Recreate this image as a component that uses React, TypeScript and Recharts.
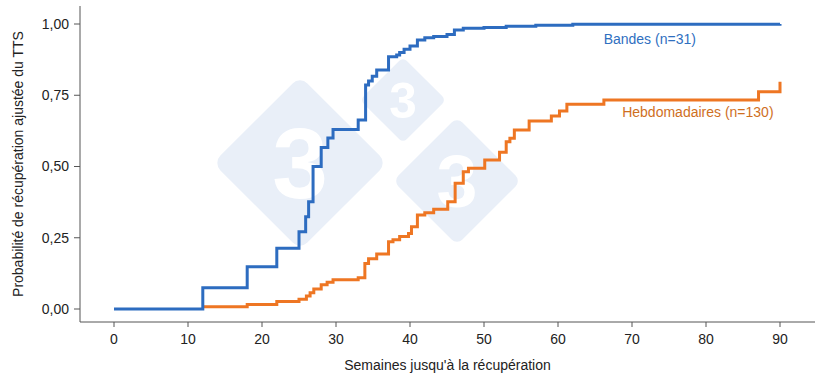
import React from "react"
import { LineChart, Line, XAxis, YAxis, ReferenceDot } from "recharts"

// axis ticks
const weekTicks = [0, 10, 20, 30, 40, 50, 60, 70, 80, 90]
const probTicks = [0, 0.25, 0.5, 0.75, 1]

// Bandes (n=31) - step points
const bandesWeeks = [
  0, 12, 18, 22, 25, 25.9, 26.3, 26.9, 28, 28.9, 29.6, 33, 34, 34.4, 34.9, 35.5,
  37.1, 38.2, 38.6, 39.2, 40, 41, 42, 43.2, 45, 46, 47.2, 50, 53, 57, 62, 90,
]
const bandesProb = [
  0, 0.075, 0.148, 0.213, 0.271, 0.324, 0.376, 0.5, 0.567, 0.6, 0.63, 0.663, 0.786, 0.8, 0.817, 0.839,
  0.885, 0.891, 0.9, 0.911, 0.923, 0.944, 0.952, 0.956, 0.963, 0.979, 0.985, 0.988, 0.992, 0.996, 0.999, 1.0,
]

// Hebdomadaires (n=130)
const hebdoWeeks = [
  12, 18, 22, 25, 26, 26.5, 27, 28, 28.8, 29.6, 33, 33.9, 34.4, 35.5, 37.1, 37.7, 38.6, 39.8, 40.2,
  41, 42, 43.2, 45.1, 46.1, 47.2, 47.9, 50.1, 52.1, 53, 53.5, 54.1, 56.1, 59.1, 60.2, 61.2, 66.2, 87.1, 90,
]
const hebdoProb = [
  0.008, 0.016, 0.026, 0.034, 0.046, 0.057, 0.07, 0.085, 0.094, 0.103, 0.11, 0.16, 0.176, 0.193, 0.236, 0.243, 0.254, 0.265, 0.289,
  0.33, 0.338, 0.35, 0.376, 0.441, 0.482, 0.494, 0.523, 0.55, 0.587, 0.599, 0.628, 0.66, 0.677, 0.695, 0.718, 0.733, 0.762, 0.797,
]

const bandesData = bandesWeeks.map((w, i) => ({ week: w, p: bandesProb[i] }))
const hebdoData = hebdoWeeks.map((w, i) => ({ week: w, p: hebdoProb[i] }))

const FONT = "'Liberation Sans', Arial, Helvetica, sans-serif"
const BLUE = "#2d6cc0"
const ORANGE = "#ee7623"

if (typeof document !== "undefined") document.body.style.margin = "0"

const fmt = (v: number) => v.toFixed(2).replace(".", ",")

// faint "333" logo behind the plot
const marks = [
  { cx: 300, cy: 163, half: 87 },
  { cx: 403, cy: 100, half: 43 },
  { cx: 457, cy: 181, half: 64 },
]

function Watermark() {
  return (
    <svg width={820} height={383} style={{ position: "absolute", left: 0, top: 0 }}>
      {marks.map((m, i) => {
        const s = m.half * Math.SQRT2
        return (
          <g key={i}>
            <rect
              x={m.cx - s / 2}
              y={m.cy - s / 2}
              width={s}
              height={s}
              rx={m.half * 0.12}
              fill="#e9eff8"
              transform={`rotate(45 ${m.cx} ${m.cy})`}
            />
            <text
              x={m.cx}
              y={m.cy}
              textAnchor="middle"
              dominantBaseline="central"
              fill="#fff"
              fontFamily={FONT}
              fontWeight="bold"
              fontSize={m.half * 1.15}
            >
              3
            </text>
          </g>
        )
      })}
    </svg>
  )
}

function YTitle(props: any) {
  const vb = props.viewBox
  const cy = vb.y + vb.height / 2
  return (
    <text
      x={18}
      y={cy}
      transform={`rotate(-90 18 ${cy})`}
      textAnchor="middle"
      dominantBaseline="central"
      fontSize={14}
      fill="#222"
      fontFamily={FONT}
    >
      Probabilité de récupération ajustée du TTS
    </text>
  )
}

export default function App() {
  return (
    <div style={{ position: "relative", width: 820, height: 383, background: "#fff", fontFamily: FONT }}>
      <Watermark />
      <div style={{ position: "absolute", left: 0, top: 0 }}>
        <LineChart width={820} height={383} margin={{ top: 6, right: 5, left: 0, bottom: 0 }}>
          <XAxis
            type="number"
            dataKey="week"
            domain={[0, 90]}
            ticks={weekTicks}
            padding={{ left: 34, right: 35 }}
            height={61}
            tickSize={5}
            tickMargin={7}
            stroke="#555"
            tick={{ fill: "#222", fontSize: 14, fontFamily: FONT }}
            allowDuplicatedCategory={false}
            label={{
              value: "Semaines jusqu'à la récupération",
              position: "insideBottom",
              offset: 13,
              fill: "#222",
              fontSize: 14,
              fontFamily: FONT,
            }}
          />
          <YAxis
            type="number"
            domain={[0, 1]}
            ticks={probTicks}
            padding={{ top: 18, bottom: 13 }}
            width={80}
            tickSize={6}
            tickMargin={5}
            stroke="#555"
            tickFormatter={fmt}
            tick={{ fill: "#222", fontSize: 14, fontFamily: FONT }}
            label={{ content: <YTitle /> }}
          />
          <Line
            data={hebdoData}
            dataKey="p"
            type="stepAfter"
            stroke={ORANGE}
            strokeWidth={3}
            dot={false}
            isAnimationActive={false}
          />
          <Line
            data={bandesData}
            dataKey="p"
            type="stepAfter"
            stroke={BLUE}
            strokeWidth={3}
            dot={false}
            isAnimationActive={false}
          />
          <ReferenceDot
            x={72.4}
            y={0.947}
            r={0}
            fill="none"
            stroke="none"
            label={{ value: "Bandes (n=31)", position: "center", fill: "#2f6fbf", fontSize: 14, fontFamily: FONT }}
          />
          <ReferenceDot
            x={78.9}
            y={0.691}
            r={0}
            fill="none"
            stroke="none"
            label={{ value: "Hebdomadaires (n=130)", position: "center", fill: "#cf6f1e", fontSize: 14, fontFamily: FONT }}
          />
        </LineChart>
      </div>
    </div>
  )
}
